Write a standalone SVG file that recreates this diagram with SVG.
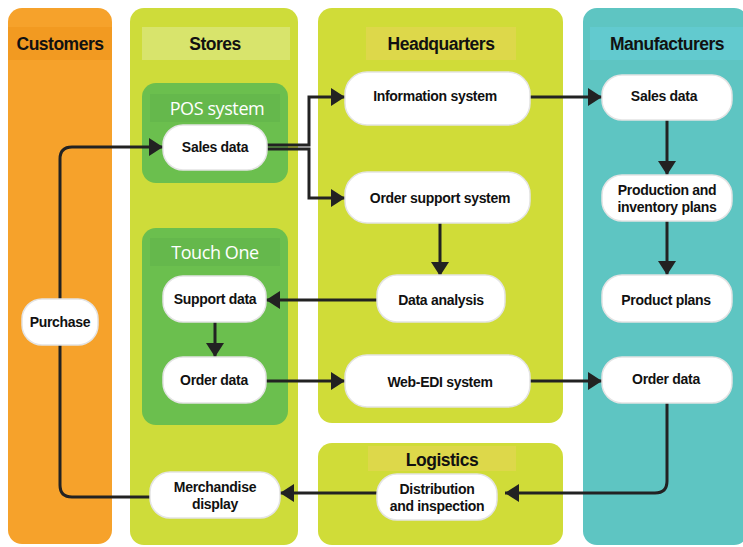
<svg xmlns="http://www.w3.org/2000/svg" width="743" height="547" viewBox="0 0 743 547">
<defs>
<style>
.pill{fill:#fff;stroke:#e4e4e4;stroke-width:1.5}
.t{font-family:"Liberation Sans",Arial,sans-serif;font-weight:bold;font-size:14px;fill:#111;text-anchor:middle;letter-spacing:-0.3px}
.h{font-family:"Liberation Sans",Arial,sans-serif;font-weight:bold;font-size:17.5px;fill:#111;text-anchor:middle;letter-spacing:-0.5px}
.w{font-family:"Open Sans","Liberation Sans",sans-serif;font-size:18px;fill:#fff;text-anchor:middle;letter-spacing:-0.4px}
.c{fill:none;stroke:#222;stroke-width:3}
</style>
<marker id="ah" markerUnits="userSpaceOnUse" markerWidth="15" markerHeight="18" viewBox="0 0 15 18" refX="14" refY="9" orient="auto">
<path d="M0,0 L14,9 L0,18 Z" fill="#222"/>
</marker>
</defs>
<rect width="743" height="547" fill="#fff"/>
<g id="lane-customers">
<rect x="8" y="8" width="104" height="536" rx="14" fill="#F6A22B"/>
<rect x="8" y="27" width="104" height="33" fill="#F29A21"/>
<text class="h" x="60" y="50">Customers</text>
</g>
<g id="lane-stores">
<rect x="130" y="8" width="168" height="537" rx="14" fill="#CEDC3A"/>
<rect x="142" y="27" width="148" height="33" fill="#D8E46C"/>
<text class="h" x="215" y="50">Stores</text>
</g>
<g id="lane-headquarters">
<rect x="318" y="8" width="245" height="415" rx="14" fill="#D0DC38"/>
<rect x="366" y="27" width="150" height="33" fill="#DDD84A"/>
<text class="h" x="441" y="50">Headquarters</text>
</g>
<g id="lane-logistics">
<rect x="318" y="443" width="245" height="102" rx="14" fill="#D0DC38"/>
<rect x="368" y="446" width="148" height="25" fill="#DDD84A"/>
<text class="h" x="442" y="466">Logistics</text>
</g>
<g id="lane-manufacturers">
<rect x="583" y="8" width="165" height="537" rx="14" fill="#5EC5C2"/>
<rect x="590" y="27" width="153" height="33" fill="#62CACF"/>
<text class="h" x="667" y="50">Manufacturers</text>
</g>
<g id="group-pos">
<rect x="142" y="83" width="146" height="100" rx="14" fill="#6BBF4E"/>
<rect x="150" y="94" width="130" height="28" fill="#65B84C"/>
<text class="w" x="217" y="115">POS system</text>
</g>
<g id="group-touchone">
<rect x="142" y="228" width="146" height="197" rx="14" fill="#6BBF4E"/>
<rect x="150" y="238" width="130" height="28" fill="#65B84C"/>
<text class="w" x="215" y="259">Touch One</text>
</g>
<g id="connectors">
<path class="c" d="M150,497 H72 Q60,497 60,485 V159 Q60,147 72,147 H163" marker-end="url(#ah)"/>
<path class="c" d="M267,145 H309 V97 H345" marker-end="url(#ah)"/>
<path class="c" d="M267,149 H309 V198 H345" marker-end="url(#ah)"/>
<path class="c" d="M530,97 H602" marker-end="url(#ah)"/>
<path class="c" d="M440,223 V276" marker-end="url(#ah)"/>
<path class="c" d="M377,300 H266" marker-end="url(#ah)"/>
<path class="c" d="M215,322 V357" marker-end="url(#ah)"/>
<path class="c" d="M266,381 H345" marker-end="url(#ah)"/>
<path class="c" d="M530,381 H602" marker-end="url(#ah)"/>
<path class="c" d="M667,120 V175" marker-end="url(#ah)"/>
<path class="c" d="M667,220 V275" marker-end="url(#ah)"/>
<path class="c" d="M667,403 V481 Q667,493 655,493 H505" marker-end="url(#ah)"/>
<path class="c" d="M377,493 H280" marker-end="url(#ah)"/>
</g>
<g id="purchase"><rect class="pill" x="22" y="299" width="76" height="46" rx="20"/><text class="t" x="60" y="327">Purchase</text></g>
<g id="store-sales-data"><rect class="pill" x="163" y="125" width="104" height="45" rx="20"/><text class="t" x="215" y="152">Sales data</text></g>
<g id="support-data"><rect class="pill" x="163" y="276" width="103" height="46" rx="20"/><text class="t" x="215" y="304">Support data</text></g>
<g id="store-order-data"><rect class="pill" x="163" y="357" width="103" height="46" rx="20"/><text class="t" x="214" y="385">Order data</text></g>
<g id="merchandise-display"><rect class="pill" x="150" y="472" width="130" height="46" rx="20"/><text class="t" x="215" y="492">Merchandise</text><text class="t" x="215" y="509">display</text></g>
<g id="information-system"><rect class="pill" x="345" y="72" width="185" height="53" rx="22"/><text class="t" x="435" y="101">Information system</text></g>
<g id="order-support-system"><rect class="pill" x="345" y="172" width="185" height="51" rx="22"/><text class="t" x="440" y="203">Order support system</text></g>
<g id="data-analysis"><rect class="pill" x="377" y="275" width="128" height="47" rx="20"/><text class="t" x="441" y="305">Data analysis</text></g>
<g id="web-edi-system"><rect class="pill" x="345" y="355" width="185" height="52" rx="22"/><text class="t" x="440" y="387">Web-EDI system</text></g>
<g id="distribution-inspection"><rect class="pill" x="377" y="474" width="120" height="46" rx="20"/><text class="t" x="437" y="494">Distribution</text><text class="t" x="437" y="511">and inspection</text></g>
<g id="mfr-sales-data"><rect class="pill" x="602" y="75" width="130" height="45" rx="20"/><text class="t" x="664" y="101">Sales data</text></g>
<g id="production-plans"><rect class="pill" x="602" y="175" width="130" height="46" rx="20"/><text class="t" x="667" y="195">Production and</text><text class="t" x="667" y="212">inventory plans</text></g>
<g id="product-plans"><rect class="pill" x="602" y="275" width="130" height="47" rx="20"/><text class="t" x="666" y="305">Product plans</text></g>
<g id="mfr-order-data"><rect class="pill" x="602" y="357" width="130" height="46" rx="20"/><text class="t" x="666" y="384">Order data</text></g>
</svg>
